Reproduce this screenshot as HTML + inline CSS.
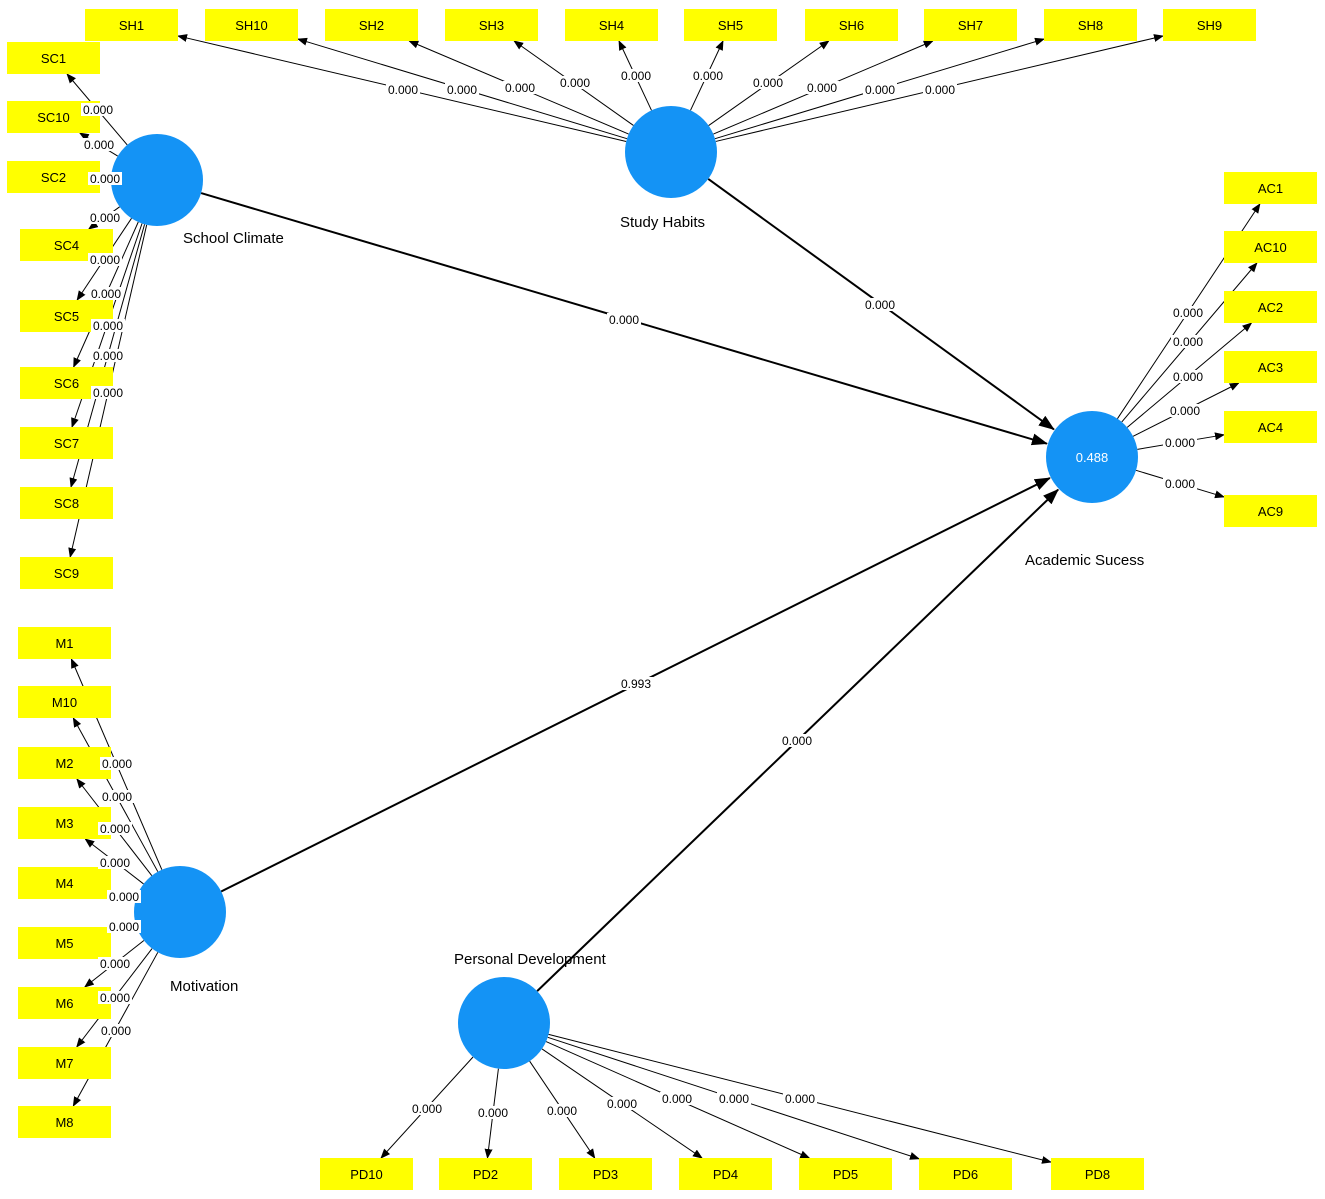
<!DOCTYPE html>
<html><head><meta charset="utf-8"><style>
html,body{margin:0;padding:0;background:#fff;width:1325px;height:1199px;overflow:hidden}
svg{display:block}
text{font-family:"Liberation Sans",sans-serif}
</style></head><body>
<svg id="s" width="1325" height="1199" viewBox="0 0 1325 1199" xmlns="http://www.w3.org/2000/svg">
<defs>
<marker id="a" markerWidth="10" markerHeight="8" refX="9" refY="4" orient="auto" markerUnits="userSpaceOnUse"><path d="M0,0 L10,4 L0,8 z" fill="#000"/></marker>
<marker id="b" markerWidth="16" markerHeight="12" refX="15" refY="6" orient="auto" markerUnits="userSpaceOnUse"><path d="M0,0 L16,6 L0,12 z" fill="#000"/></marker>
</defs>
<g id="lines"></g><g id="boxes"></g><g id="circles"></g><g id="labels"></g>
</svg>
<script>
var NS="http://www.w3.org/2000/svg";
function el(p,t,a,txt){var e=document.createElementNS(NS,t);for(var k in a)e.setAttribute(k,a[k]);if(txt!==undefined)e.textContent=txt;document.getElementById(p).appendChild(e);return e;}
var C={sc:[157,180],sh:[671,152],ac:[1092,457],m:[180,912],pd:[504,1023]},R=46;
function box(name,x,y){el("boxes","rect",{x:x,y:y,width:93,height:32,fill:"#ffff00"});el("boxes","text",{x:x+46.5,y:y+21,"font-size":13,"text-anchor":"middle",fill:"#000"},name);return [x,y];}
function clip(cx,cy,bx,by){var tx=bx+46.5,ty=by+16,dx=tx-cx,dy=ty-cy,best=1;
 var cands=[];if(dx>0)cands.push((bx-cx)/dx);if(dx<0)cands.push((bx+93-cx)/dx);if(dy>0)cands.push((by-cy)/dy);if(dy<0)cands.push((by+32-cy)/dy);
 var t=0;cands.forEach(function(c){var px=cx+dx*c,py=cy+dy*c;if(px>=bx-0.5&&px<=bx+93.5&&py>=by-0.5&&py<=by+32.5)t=Math.max(t,c);});
 if(!t)t=1;return [cx+dx*t,cy+dy*t];}
function ind(c,name,bx,by,lx,ly){var p=C[c];box(name,bx,by);var e=clip(p[0],p[1],bx,by);var dx=e[0]-p[0],dy=e[1]-p[1],L=Math.hypot(dx,dy);
 var s=[p[0]+dx/L*R,p[1]+dy/L*R];el("lines","line",{x1:s[0],y1:s[1],x2:e[0],y2:e[1],stroke:"#000","stroke-width":1,"marker-end":"url(#a)"});
 lbl(lx,ly);}
function lbl(x,y,t){t=t||"0.000";var w=34;el("labels","rect",{x:x-w/2,y:y-7,width:w,height:13,fill:"#fff"});el("labels","text",{x:x,y:y+4,"font-size":12,"text-anchor":"middle",fill:"#000"},t);}
var shx=[85,205,325,445,565,684,805,924,1044,1163],shn=["SH1","SH10","SH2","SH3","SH4","SH5","SH6","SH7","SH8","SH9"],
shl=[[403,90],[462,90],[520,88],[575,83],[636,76],[708,76],[768,83],[822,88],[880,90],[940,90]];
shn.forEach(function(n,i){ind("sh",n,shx[i],9,shl[i][0],shl[i][1]);});
var sc=[["SC1",7,42],["SC10",7,101],["SC2",7,161],["SC4",20,229],["SC5",20,300],["SC6",20,367],["SC7",20,427],["SC8",20,487],["SC9",20,557]],
scl=[[98,110],[99,145],[105,179],[105,218],[105,260],[106,294],[108,326],[108,356],[108,393]];
sc.forEach(function(s,i){ind("sc",s[0],s[1],s[2],scl[i][0],scl[i][1]);});
var mn=["M1","M10","M2","M3","M4","M5","M6","M7","M8"],my=[627,686,747,807,867,927,987,1047,1106],
ml=[[117,764],[117,797],[115,829],[115,863],[124,897],[124,927],[115,964],[115,998],[116,1031]];
mn.forEach(function(n,i){ind("m",n,18,my[i],ml[i][0],ml[i][1]);});
var an=["AC1","AC10","AC2","AC3","AC4","AC9"],ay=[172,231,291,351,411,495],al=[[1188,313],[1188,342],[1188,377],[1185,411],[1180,443],[1180,484]];
an.forEach(function(n,i){ind("ac",n,1224,ay[i],al[i][0],al[i][1]);});
var pn=["PD10","PD2","PD3","PD4","PD5","PD6","PD8"],px=[320,439,559,679,799,919,1051],pl=[[427,1109],[493,1113],[562,1111],[622,1104],[677,1099],[734,1099],[800,1099]];
pn.forEach(function(n,i){ind("pd",n,px[i],1158,pl[i][0],pl[i][1]);});
function path(a,b,lx,ly,t){var p=C[a],q=C[b],dx=q[0]-p[0],dy=q[1]-p[1],L=Math.hypot(dx,dy);
 el("lines","line",{x1:p[0]+dx/L*R,y1:p[1]+dy/L*R,x2:q[0]-dx/L*(R+1),y2:q[1]-dy/L*(R+1),stroke:"#000","stroke-width":2,"marker-end":"url(#b)"});lbl(lx,ly,t);}
path("sc","ac",624,320);path("sh","ac",880,305);path("m","ac",636,684,"0.993");path("pd","ac",797,741);
for(var k in C)el("circles","circle",{cx:C[k][0],cy:C[k][1],r:R,fill:"#1493f5"});
el("circles","text",{x:1092,y:462,"font-size":13,"text-anchor":"middle",fill:"#fff"},"0.488");
[["School Climate",183,243],["Study Habits",620,227],["Academic Sucess",1025,565],["Motivation",170,991],["Personal Development",454,964]].forEach(function(t){el("circles","text",{x:t[1],y:t[2],"font-size":15,fill:"#000"},t[0]);});
</script>
</body></html>
